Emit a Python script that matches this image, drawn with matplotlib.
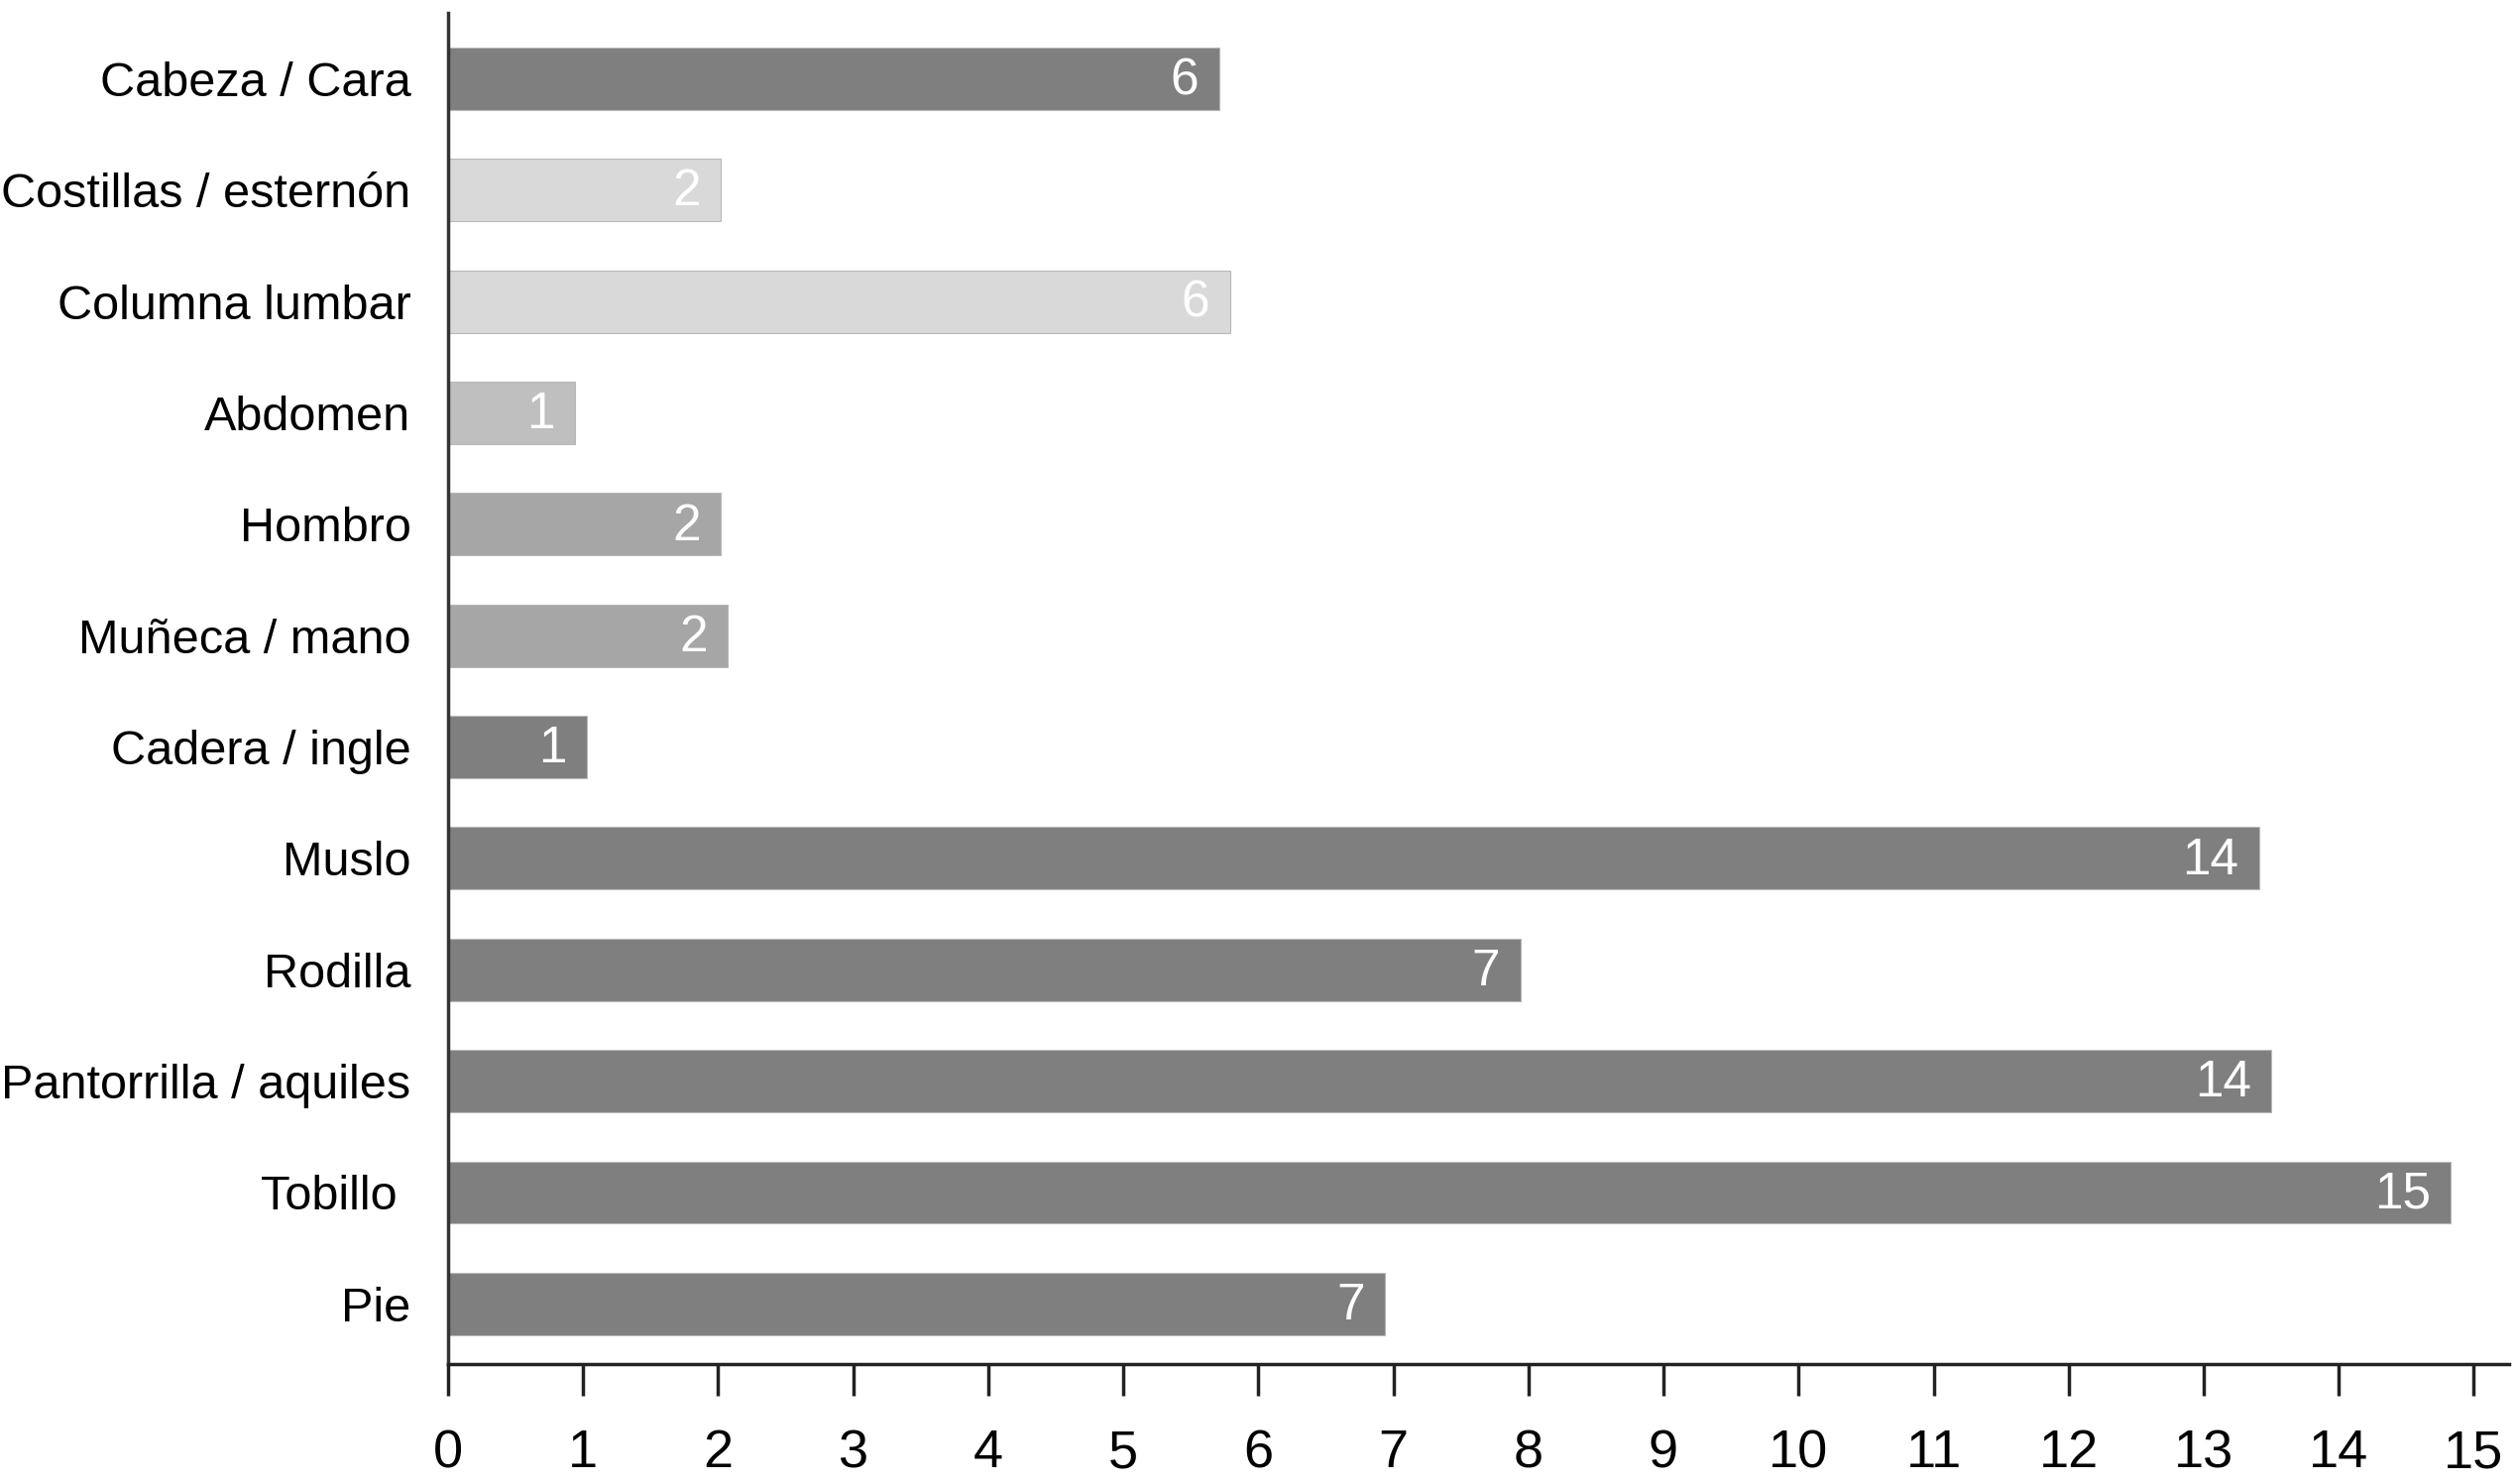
import matplotlib
matplotlib.use("Agg")
import matplotlib.pyplot as plt

categories = ["Cabeza / Cara", "Costillas / esternón", "Columna lumbar", "Abdomen",
              "Hombro", "Muñeca / mano", "Cadera / ingle", "Muslo", "Rodilla",
              "Pantorrilla / aquiles", "Tobillo ", "Pie"]
# numbers printed on the bars
counts = [6, 2, 6, 1, 2, 2, 1, 14, 7, 14, 15, 7]
# bar lengths as drawn in the picture (not exactly the counts)
drawn = [5.71, 2.02, 5.79, 0.94, 2.02, 2.07, 1.03, 13.41, 7.94, 13.50, 14.83, 6.94]
colors = ["#7f7f7f", "#d9d9d9", "#d9d9d9", "#bfbfbf", "#a6a6a6", "#a6a6a6",
          "#7f7f7f", "#7f7f7f", "#7f7f7f", "#7f7f7f", "#7f7f7f", "#7f7f7f"]
xticks = list(range(16))

plt.rcParams['font.family'] = ['Liberation Sans', 'DejaVu Sans']

fig = plt.figure(figsize=(25.39, 14.97), dpi=100)
ax = fig.add_axes([0.178, 0.0808, 0.8188, 0.9105])

n = len(categories)
ypos = [n - 1 - i for i in range(n)]
ax.barh(ypos, drawn, height=0.56, color=colors, edgecolor="#b8b8b8", linewidth=0.8)

for y, d, c in zip(ypos, drawn, counts):
    ax.text(d - 0.15, y - 0.02, str(c), ha="right", va="center", color="white", fontsize=37)

ax.set_xlim(0, 15.26)
ax.set_ylim(-0.54, n - 1 + 0.59)
ax.set_yticks(ypos)
ax.set_yticklabels(categories, fontsize=35)
ax.set_xticks(xticks)
ax.set_xticklabels([str(t) for t in xticks], fontsize=39)

ax.tick_params(axis="y", length=0, pad=27)
ax.tick_params(axis="x", direction="out", length=23, width=2.5, pad=24, color="#222222")

for s in ["top", "right"]:
    ax.spines[s].set_visible(False)
ax.spines["left"].set_linewidth(2.5)
ax.spines["bottom"].set_linewidth(2.5)
ax.spines["left"].set_color("#333333")
ax.spines["bottom"].set_color("#222222")

fig.savefig("out.png", dpi=100)
